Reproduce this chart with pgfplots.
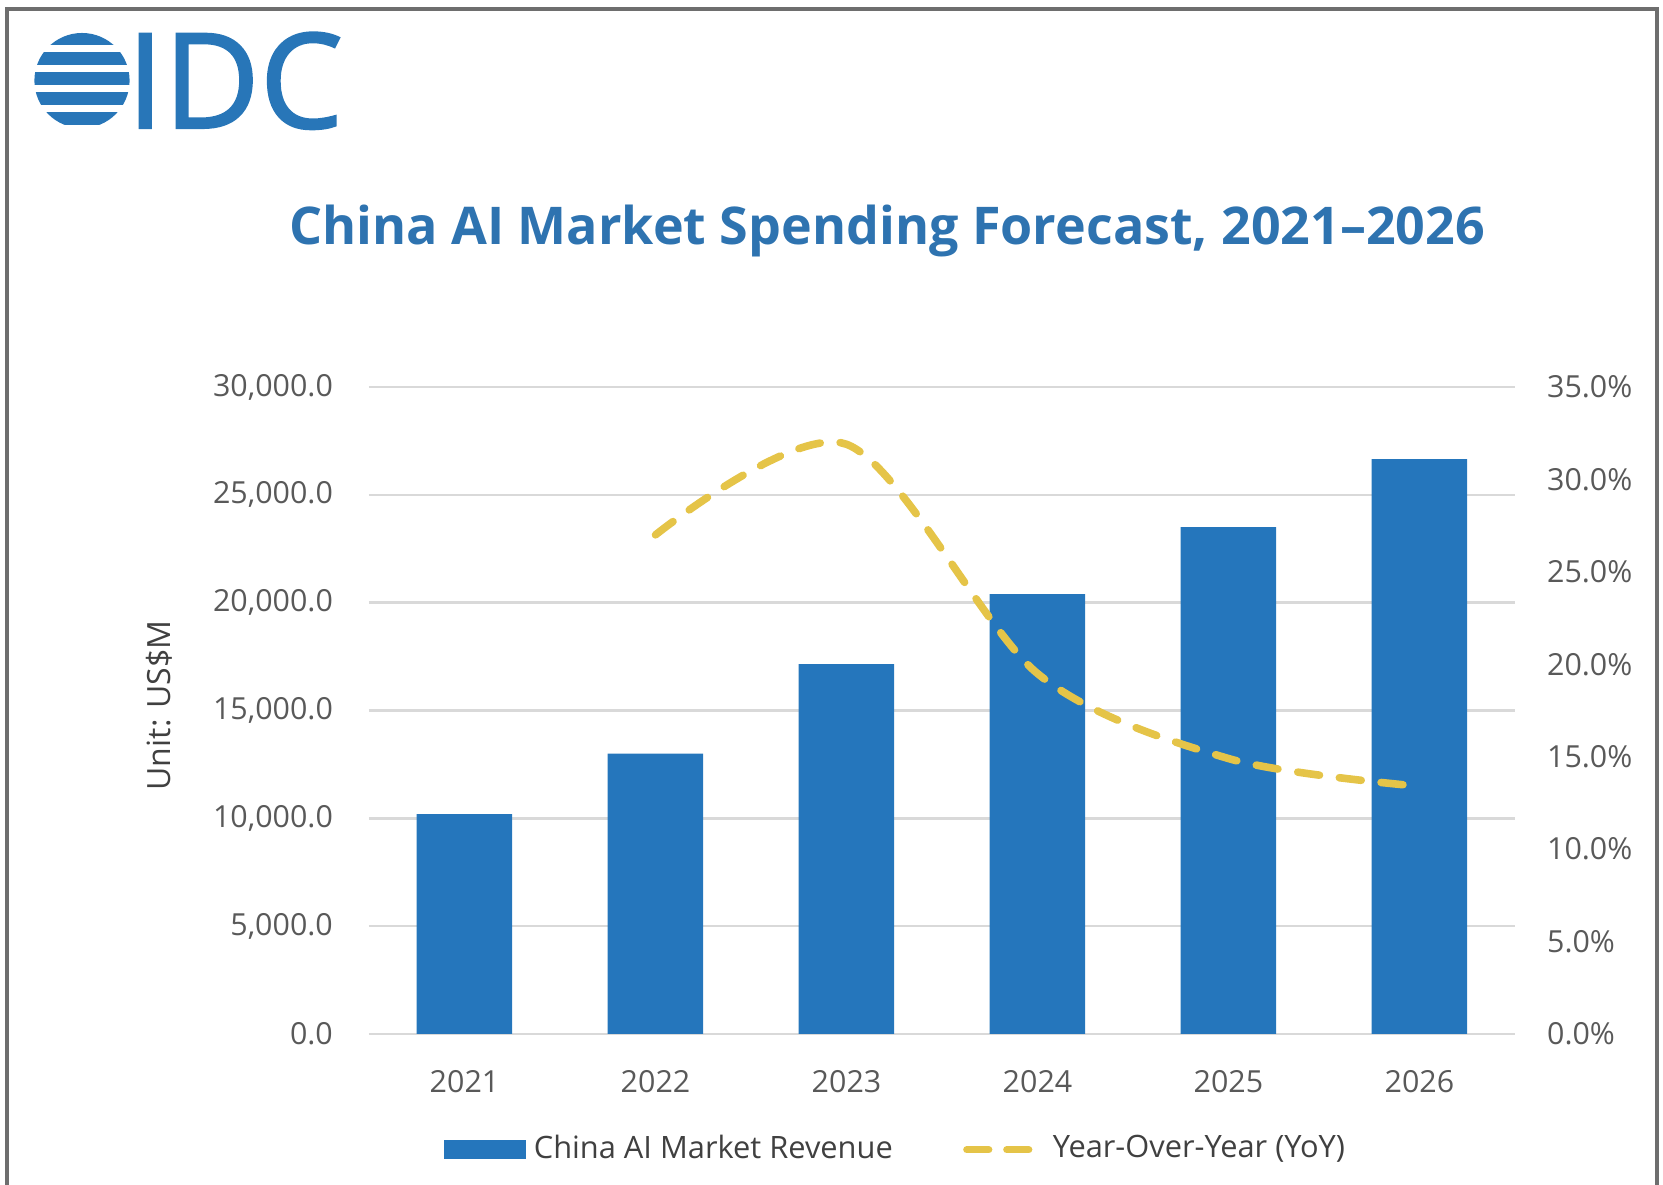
\documentclass[border=0pt]{standalone}
\usepackage{pgfplots}
\pgfplotsset{compat=1.18}
\usepackage{pgfplotstable}
\usepackage{fontspec}
\setmainfont{Open Sans}
\newfontfamily\logofont{Open Sans}[FakeBold=1.6]

\definecolor{barblue}{RGB}{37,118,188}
\definecolor{titleblue}{RGB}{46,115,176}
\definecolor{logoblue}{RGB}{40,118,184}
\definecolor{yoyyellow}{RGB}{229,196,72}
\definecolor{gridgray}{RGB}{217,217,217}
\definecolor{labelgray}{RGB}{89,89,89}
\definecolor{framegray}{RGB}{110,110,110}

% China AI market revenue, US$M
\pgfplotstableread{
x year revenue
0 2021 10200
1 2022 13000
2 2023 17150
3 2024 20400
4 2025 23500
5 2026 26650
}\revenue

% year-over-year growth, %
\pgfplotstableread{
x yoy
1 27.0
2 31.9
3 19.5
4 14.9
5 13.4
}\yoy

\begin{document}
\begin{tikzpicture}[x=1pt,y=1pt]
\useasboundingbox (0,0) rectangle (415.75,296.25);

% frame
\draw[framegray, line width=1pt] (1.75,0) -- (1.75,294) -- (414.25,294) -- (414.25,0);

% logo
\begin{scope}
  \clip (20.5,276.1) circle (11.9);
  \foreach \t in {288.3,283.3,278.3,273.3,268.3}
    \fill[logoblue] (0,\t) rectangle (50,{\t-3.3});
\end{scope}
\node[anchor=base west, inner sep=0pt, text=logoblue,
      font=\fontsize{33}{33}\logofont] at (31.5,264.25) {IDC};

% title
\node[anchor=base, inner sep=0pt, text=titleblue,
      font=\fontsize{13}{13}\selectfont\bfseries] at (221.75,235)
      {China AI Market Spending Forecast, 2021–2026};

\begin{axis}[
    at={(92.25pt,37.75pt)}, anchor=south west,
    scale only axis, width=286.5pt, height=161.75pt,
    xmin=-0.5, xmax=5.5,
    ymin=0, ymax=30000,
    xtick={0,1,2,3,4,5},
    xticklabels={2021,2022,2023,2024,2025,2026},
    ytick={0,5000,...,30000},
    ymajorgrids,
    grid style={gridgray, line width=0.6pt},
    axis line style={draw=none},
    major tick length=0pt,
    tick label style={font=\fontsize{7.6}{9}\selectfont, text=labelgray},
    /pgf/number format/assume math mode=true,
    scaled y ticks=false,
    yticklabel style={
      /pgf/number format/fixed,
      /pgf/number format/fixed zerofill,
      /pgf/number format/precision=1,
      /pgf/number format/1000 sep={,},
      xshift=-5.5pt},
    xticklabel style={yshift=-5.5pt},
    ylabel={Unit: US\$M},
    ylabel style={at={(axis description cs:-0.183,0.508)}, anchor=center,
      font=\fontsize{8}{9}\selectfont, text=black!75},
    legend style={at={(axis description cs:0.0646,-0.179)}, anchor=west,
      draw=none, fill=none, inner sep=0pt, legend columns=2,
      font=\fontsize{7.7}{9}\selectfont, text=black!75,
      /tikz/every even column/.append style={column sep=15.5pt}},
  ]
  \addplot[ybar, bar width=0.5, fill=barblue, draw=none,
    legend image code/.code={\fill[barblue] (0pt,-2.4pt) rectangle (20.5pt,2.4pt);}]
    table[x=x, y=revenue] {\revenue};
  \addlegendentry{China AI Market Revenue}
  \addlegendimage{legend image code/.code={%
    \draw[yoyyellow, line width=1.8pt, line cap=round, dash pattern=on 5.5pt off 4.5pt]
      (1pt,0pt) -- (16.5pt,0pt);
    \path[draw=none, fill=none] (0pt,0pt) -- (20.5pt,0pt);}}
  \addlegendentry{Year-Over-Year (YoY)}
\end{axis}

\begin{axis}[
    at={(92.25pt,37.75pt)}, anchor=south west,
    scale only axis, width=286.5pt, height=161.75pt,
    xmin=-0.5, xmax=5.5,
    ymin=0, ymax=35,
    hide x axis,
    axis y line*=right,
    axis line style={draw=none},
    ytick={0,5,...,35},
    major tick length=0pt,
    tick label style={font=\fontsize{7.6}{9}\selectfont, text=labelgray},
    /pgf/number format/assume math mode=true,
    yticklabel={\pgfmathprintnumber[fixed,fixed zerofill,precision=1]{\tick}\%},
    yticklabel style={xshift=4.5pt},
  ]
  \addplot[yoyyellow, line width=1.9pt, line cap=round,
    dash pattern=on 5.5pt off 5pt, smooth]
    table[x=x, y=yoy] {\yoy};
\end{axis}
\end{tikzpicture}
\end{document}
